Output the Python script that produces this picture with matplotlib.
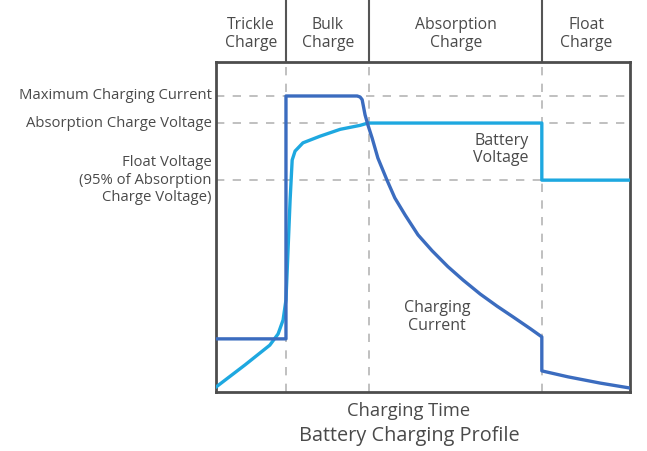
import matplotlib.pyplot as plt

# charging time in % of total, levels in % of plot height
phase_edges = [16.9, 37.0, 78.7]
phase_names = ["Trickle\nCharge", "Bulk\nCharge", "Absorption\nCharge", "Float\nCharge"]
phase_centers = [8.5, 27.0, 57.9, 89.4]

max_current = 89.7
absorb_volt = 81.5
float_volt = 64.2

current_t = [0, 16.9, 16.9, 34.1, 34.8, 35.3, 36.0, 36.7, 37.7, 39.1, 41.3, 43.2,
             45.7, 48.8, 52.2, 56.0, 59.7, 63.8, 67.9, 71.7, 75.9, 78.7, 78.7,
             85.0, 92.8, 100]
current_v = [16.1, 16.1, 89.7, 89.7, 89.4, 88.6, 84.0, 80.9, 77.0, 70.9, 64.2, 58.8,
             53.6, 47.6, 42.8, 38.0, 33.9, 29.7, 26.0, 22.8, 19.2, 16.7, 6.4,
             4.6, 2.7, 1.2]

volt_t = [0, 7.0, 13.0, 15.0, 16.2, 16.9, 17.9, 18.4, 19.1, 21.0, 25.1, 30.0,
          34.8, 36.7, 78.7, 78.7, 100]
volt_v = [1.5, 8.2, 14.2, 17.6, 21.8, 27.9, 58.2, 70.3, 73.0, 75.5, 77.5, 79.6,
          80.8, 81.5, 81.5, 64.2, 64.2]

plt.rcParams['font.family'] = ['Open Sans', 'DejaVu Sans']
txt = '#4a4a4a'

fig = plt.figure(figsize=(6.47, 4.51), dpi=100)
ax = fig.add_axes([216/647, 59/451, 414/647, 330/451])
ax.set_xlim(0, 100)
ax.set_ylim(0, 100)
ax.set_xticks([])
ax.set_yticks([])
for s in ax.spines.values():
    s.set_color('#4d4d4d')
    s.set_linewidth(2)

dash = (0, (5, 5))
for x in phase_edges:
    ax.plot([x, x], [0, 100], color='#b5b5b5', lw=1.2, ls=dash, zorder=1)
    ax.plot([x, x], [100, 118.8], color='#555555', lw=1.5, clip_on=False)
for y in [max_current, absorb_volt, float_volt]:
    ax.plot([0, 100], [y, y], color='#b5b5b5', lw=1.2, ls=dash, zorder=1)

ax.plot(volt_t, volt_v, color='#1ea8e0', lw=2.4, zorder=3)
ax.plot(current_t, current_v, color='#3b6cbf', lw=2.4, zorder=4,
        solid_joinstyle='round')

for c, name in zip(phase_centers, phase_names):
    ax.text(c, 108.5, name, ha='center', va='center', fontsize=11.3, color=txt,
            linespacing=1.15, clip_on=False)

ax.text(-1, max_current, "Maximum Charging Current", ha='right', va='center',
        fontsize=10.7, color=txt)
ax.text(-1, absorb_volt, "Absorption Charge Voltage", ha='right', va='center',
        fontsize=10.7, color=txt)
ax.text(-1, float_volt, "Float Voltage\n(95% of Absorption\nCharge Voltage)",
        ha='right', va='center', fontsize=10.7, color=txt, linespacing=1.2)

ax.text(68.9, 73.5, "Battery\nVoltage", ha='center', va='center', fontsize=11.5,
        color=txt, linespacing=1.1)
ax.text(53.4, 22.7, "Charging\nCurrent", ha='center', va='center', fontsize=11.5,
        color=txt, linespacing=1.1)

ax.text(46.6, -5.8, "Charging Time", ha='center', va='center', fontsize=13.2, color=txt)
ax.text(46.6, -13.4, "Battery Charging Profile", ha='center', va='center',
        fontsize=14.3, color=txt)

fig.savefig('out.png', dpi=100, facecolor='white')
